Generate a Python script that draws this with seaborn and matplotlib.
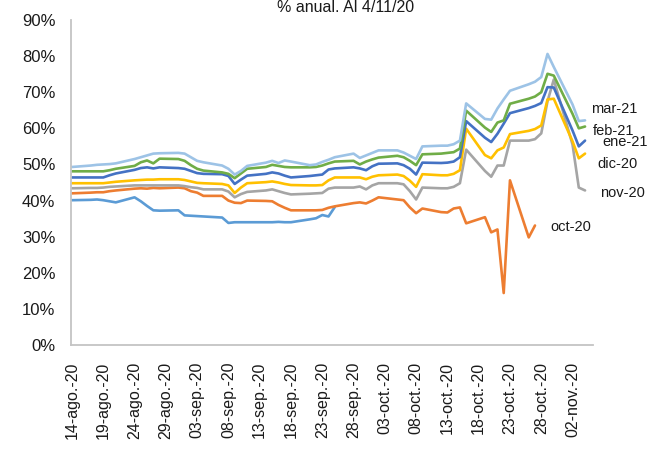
import matplotlib

matplotlib.use("Agg")
import matplotlib.pyplot as plt
from matplotlib.ticker import FuncFormatter
import pandas as pd
import seaborn as sns

# business days 14-ago-20 .. 04-nov-20
START = "2020-08-14"
END = "2020-11-04"

SERIES = ["sep-20", "oct-20", "nov-20", "dic-20", "ene-21", "feb-21", "mar-21"]
COLORS = ["#5B9BD5", "#ED7D31", "#A5A5A5", "#FFC000", "#4472C4", "#70AD47", "#9DC3E6"]
LABELED = ["mar-21", "feb-21", "ene-21", "dic-20", "nov-20", "oct-20"]

# values in % (one row per week)
sep20 = [40.1,
         40.2, 40.3, 40.1, 39.8, 39.5,
         40.9, 39.8, 38.5, 37.3, 37.2,
         37.3, 35.9, 35.8, 35.7, 35.6,
         35.3, 33.8, 34.0, 34.0, 34.0,
         34.0, 34.0, 34.1, 34.0, 34.0,
         34.8, 35.1, 36.0, 35.6, 38.2]
oct20 = [42.0,
         42.2, 42.3, 42.3, 42.6, 42.8,
         43.3, 43.4, 43.3, 43.5, 43.4,
         43.6, 43.4, 42.6, 42.2, 41.3,
         41.3, 40.0, 39.4, 39.3, 40.0,
         39.9, 39.8, 38.8, 38.0, 37.3,
         37.3, 37.3, 37.4, 38.0, 38.4,
         39.3, 39.5, 39.2, 40.0, 40.9,
         40.3, 40.1, 38.1, 36.5, 37.8,
         36.8, 36.7, 37.8, 38.1, 33.7,
         35.4, 31.2, 32.0, 14.4, 45.6,
         29.8, 33.1]
nov20 = [43.4,
         43.5, 43.5, 43.6, 43.8, 43.9,
         44.2, 44.2, 44.2, 44.2, 44.2,
         44.2, 44.0, 43.7, 43.5, 43.1,
         43.1, 42.5, 40.9, 41.8, 42.4,
         42.8, 43.1, 42.6, 42.1, 41.7,
         41.9, 42.0, 42.1, 43.3, 43.6,
         43.6, 43.9, 43.1, 44.2, 44.8,
         44.8, 44.5, 42.6, 40.3, 43.6,
         43.4, 43.4, 43.8, 44.8, 54.1,
         48.2, 46.6, 49.7, 49.7, 56.6,
         56.6, 57.0, 58.6, 67.5, 73.5,
         55.5, 43.6, 42.8]
dic20 = [44.8,
         44.8, 44.8, 44.8, 45.0, 45.2,
         45.6, 45.7, 45.8, 45.8, 45.9,
         45.9, 45.7, 45.3, 44.9, 44.8,
         44.6, 44.2, 42.1, 43.6, 44.8,
         45.1, 45.3, 45.0, 44.6, 44.3,
         44.2, 44.2, 44.3, 45.6, 46.4,
         46.4, 46.4, 45.9, 46.6, 47.0,
         47.2, 46.8, 45.5, 43.8, 47.3,
         47.0, 47.0, 47.4, 48.4, 59.9,
         52.6, 51.7, 53.9, 54.7, 58.4,
         59.3, 59.8, 60.8, 68.0, 68.2,
         56.4, 51.7, 53.0]
ene21 = [46.4,
         46.4, 46.4, 46.4, 47.0, 47.5,
         48.5, 49.0, 49.2, 48.9, 49.2,
         49.0, 48.8, 48.2, 47.6, 47.4,
         47.3, 46.8, 44.6, 45.8, 46.9,
         47.4, 47.8, 47.5, 46.9, 46.4,
         46.8, 47.0, 47.2, 48.6, 48.9,
         49.2, 48.9, 48.4, 49.5, 50.2,
         50.3, 49.8, 48.8, 47.2, 50.5,
         50.4, 50.5, 50.8, 52.0, 62.0,
         57.4, 56.2, 58.5, 61.3, 64.2,
         65.6, 66.2, 67.0, 71.4, 71.3,
         59.4, 55.0, 56.6]
feb21 = [48.1,
         48.1, 48.1, 48.1, 48.4, 48.8,
         49.6, 50.6, 51.1, 50.3, 51.6,
         51.5, 51.0, 49.8, 48.8, 48.3,
         47.8, 47.4, 46.2, 47.5, 48.8,
         49.3, 49.9, 49.6, 49.3, 49.2,
         49.2, 49.3, 49.7, 50.3, 50.8,
         51.0, 50.0, 50.8, 51.4, 51.9,
         52.4, 52.0, 51.0, 49.8, 52.8,
         53.0, 53.2, 53.4, 54.4, 64.9,
         60.2, 59.0, 61.6, 62.2, 66.8,
         68.2, 68.8, 70.0, 75.1, 74.6,
         64.0, 60.0, 60.5]
mar21 = [49.3,
         49.7, 49.9, 50.0, 50.1, 50.3,
         51.5, 52.0, 52.5, 53.0, 53.1,
         53.2, 53.0, 52.0, 51.0, 50.6,
         49.7, 48.8, 47.2, 48.2, 49.6,
         50.5, 51.0, 50.4, 51.1, 50.8,
         49.8, 50.0, 50.7, 51.3, 52.0,
         53.0, 51.8, 52.5, 53.2, 53.9,
         53.9, 53.3, 52.4, 51.5, 55.0,
         55.2, 55.2, 55.6, 56.6, 66.9,
         62.6, 62.4, 65.5, 68.0, 70.4,
         72.2, 72.9, 74.2, 80.6, 77.0,
         66.6, 62.0, 62.2]

TICK_LABELS = ["14-ago.-20", "19-ago.-20", "24-ago.-20", "29-ago.-20", "03-sep.-20",
               "08-sep.-20", "13-sep.-20", "18-sep.-20", "23-sep.-20", "28-sep.-20",
               "03-oct.-20", "08-oct.-20", "13-oct.-20", "18-oct.-20", "23-oct.-20",
               "28-oct.-20", "02-nov.-20"]
Y_TICKS = [0, 10, 20, 30, 40, 50, 60, 70, 80, 90]
TITLE = "% anual. Al 4/11/20"

# label offsets in pixels from each series' last point
LABEL_OFFSETS = {
    "mar-21": (6, 11),
    "feb-21": (8, -4),
    "ene-21": (17, -1),
    "dic-20": (12, -10),
    "nov-20": (15, -3),
    "oct-20": (15, -2),
}


def main() -> None:
    sns.set_theme(style="white")
    plt.rcParams["font.family"] = ["Liberation Sans", "DejaVu Sans"]

    dates = pd.bdate_range(START, END)
    values = dict(zip(SERIES, [sep20, oct20, nov20, dic20, ene21, feb21, mar21]))
    frames = []
    for name in SERIES:
        v = values[name]
        frames.append(pd.DataFrame({"fecha": dates[: len(v)], "valor": v, "serie": name}))
    df = pd.concat(frames, ignore_index=True)

    fig = plt.figure(figsize=(6.49, 4.54), dpi=100)
    ax = fig.add_axes([0.109, 0.240, 0.805, 0.716])
    sns.lineplot(
        data=df, x="fecha", y="valor", hue="serie", hue_order=SERIES,
        palette=COLORS, linewidth=1.9, legend=False, ax=ax,
    )

    ax.set_ylim(0, 90)
    ax.set_xlim(dates[0] - pd.Timedelta(days=0.2), dates[-1] + pd.Timedelta(days=1.3))
    ax.set_yticks(Y_TICKS)
    ax.yaxis.set_major_formatter(FuncFormatter(lambda v, _: f"{v:.0f}%"))
    ticks = pd.date_range(START, periods=len(TICK_LABELS), freq="5D")
    ax.set_xticks(ticks)
    ax.set_xticklabels(TICK_LABELS, rotation=90, fontsize=11.5, color="#1a1a1a")
    for lab in ax.get_yticklabels():
        lab.set_fontsize(12)
        lab.set_family(["Liberation Sans Narrow", "Liberation Sans"])
        lab.set_color("#1a1a1a")
    ax.tick_params(axis="x", length=0, pad=12)
    ax.tick_params(axis="y", length=0, pad=11)
    ax.set_xlabel("")
    ax.set_ylabel("")

    for side in ["top", "right"]:
        ax.spines[side].set_visible(False)
    for side in ["left", "bottom"]:
        ax.spines[side].set_color("#c4c4c4")
        ax.spines[side].set_linewidth(1.3)

    for name in LABELED:
        v = values[name]
        ax.annotate(
            name, xy=(dates[len(v) - 1], v[-1]), xytext=LABEL_OFFSETS[name],
            textcoords="offset pixels", ha="left", va="center",
            fontsize=10.5, color="#1a1a1a",
        )

    fig.text(0.533, 1 - 7 / 454, TITLE, ha="center", va="center", fontsize=11.5,
             family=["Liberation Sans Narrow", "Liberation Sans"], color="#1a1a1a")

    fig.savefig("out.png", dpi=100)
    plt.close(fig)


if __name__ == "__main__":
    main()
